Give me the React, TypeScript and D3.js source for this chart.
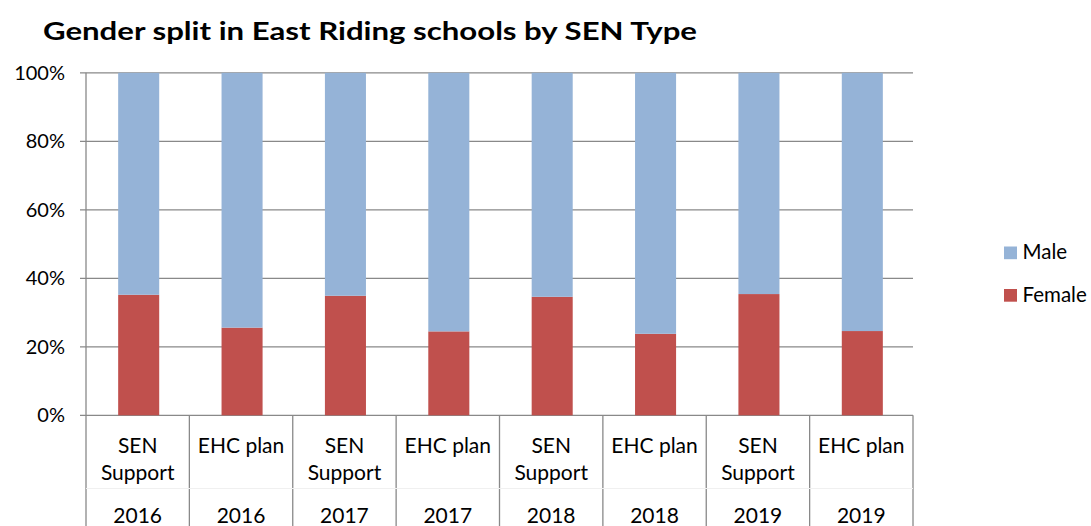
import React from "react";
import * as d3 from "d3";

const types = ["SEN Support", "EHC plan", "SEN Support", "EHC plan", "SEN Support", "EHC plan", "SEN Support", "EHC plan"];
const years = ["2016", "2016", "2017", "2017", "2018", "2018", "2019", "2019"];
const female = [35.2, 25.6, 34.9, 24.5, 34.6, 23.8, 35.4, 24.6];
const male = [64.8, 74.4, 65.1, 75.5, 65.4, 76.2, 64.6, 75.4];
const yTicks = [0, 20, 40, 60, 80, 100];
const seriesNames = ["Female", "Male"];
const colors: Record<string, string> = { Female: "#C0504D", Male: "#95B3D7" };

const width = 1091,
  height = 526,
  left = 86,
  right = 913,
  top = 72.8,
  bottom = 415.3;

const font = "Lato, 'Open Sans', sans-serif";

const App = () => {
  const rows = types.map((t, i) => ({ key: i, Female: female[i], Male: male[i] }));
  const stacked = d3.stack<any>().keys(seriesNames)(rows);

  const x = d3
    .scaleBand<number>()
    .domain(d3.range(types.length))
    .range([left, right])
    .padding(0);
  const y = d3.scaleLinear().domain([0, 100]).range([bottom, top]);
  const barW = x.bandwidth() * 0.397;

  // split the category label on the space before "Support"
  const lines = (t: string) => (t === "SEN Support" ? ["SEN", "Support"] : [t]);

  return (
    <svg
      width={width}
      height={height}
      style={{ position: "absolute", left: 0, top: 0, background: "#fff" }}
      fontFamily={font}
    >
      <text
        x={43}
        y={39.5}
        fontSize={25}
        fontWeight="bold"
        fill="#000"
        textLength={654}
        lengthAdjust="spacingAndGlyphs"
      >
        Gender split in East Riding schools by SEN Type
      </text>

      {/* grid + y ticks */}
      {yTicks.map(t => (
        <g key={t}>
          <line x1={left - 6} x2={right} y1={y(t)} y2={y(t)} stroke="#898989" strokeWidth={1.3} />
          <text x={65} y={y(t) + 7} textAnchor="end" fontSize={20} fill="#000">
            {t}%
          </text>
        </g>
      ))}

      {/* bars */}
      {stacked.map(s => (
        <g key={s.key} fill={colors[s.key]}>
          {s.map((d, i) => (
            <rect
              key={i}
              x={x(i)! + x.bandwidth() / 2 - barW / 2 + 1}
              y={y(d[1])}
              width={barW}
              height={y(d[0]) - y(d[1])}
            />
          ))}
        </g>
      ))}

      {/* category separators */}
      <line x1={left} x2={left} y1={top} y2={height} stroke="#898989" strokeWidth={1.3} />
      {d3.range(1, types.length + 1).map(i => (
        <line
          key={i}
          x1={left + x.step() * i}
          x2={left + x.step() * i}
          y1={bottom}
          y2={height}
          stroke="#898989"
          strokeWidth={1.3}
        />
      ))}
      <line x1={left} x2={right} y1={488.5} y2={488.5} stroke="#f0f0f0" strokeWidth={1} />

      {/* category labels */}
      {types.map((t, i) => (
        <g key={i} fontSize={21} fill="#000" textAnchor="middle">
          {lines(t).map((l, j) => (
            <text key={j} x={x(i)! + x.step() / 2} y={453 + j * 27}>
              {l}
            </text>
          ))}
          <text x={x(i)! + x.step() / 2} y={523}>
            {years[i]}
          </text>
        </g>
      ))}

      {/* legend */}
      {["Male", "Female"].map((n, i) => (
        <g key={n}>
          <rect x={1004} y={246.5 + i * 42.5} width={13} height={12.7} fill={colors[n]} />
          <text x={1022.5} y={259 + i * 42.5} fontSize={20.5} fill="#000">
            {n}
          </text>
        </g>
      ))}
    </svg>
  );
};

export default App;
